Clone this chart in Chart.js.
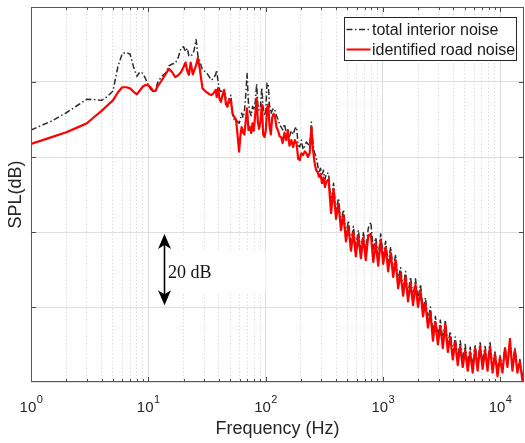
<!DOCTYPE html>
<html><head><meta charset="utf-8">
<script src="https://cdn.jsdelivr.net/npm/chart.js@4/dist/chart.umd.min.js"></script>
<style>html,body{margin:0;padding:0;background:#fff;}canvas{display:block;}</style>
</head><body>
<canvas id="c" width="525" height="443"></canvas>
<script>
// ---- data (frequency in Hz, level in dB, relative scale) ----
const freqLow = [1, 1.5, 2, 2.5, 3, 3.5, 4, 4.5, 5, 5.5, 6, 6.5, 7, 7.5, 8, 8.5, 9, 9.5, 10, 10.5, 11, 11.5, 12, 13, 14, 15, 16, 17, 18, 19, 20, 20.8, 21.5, 22.2, 23, 24, 24.6, 25.6, 26.5, 27.5, 29, 31];
const totalLow = [67.2, 69.6, 71.8, 73.8, 75.4, 75.3, 75.1, 76.2, 77.6, 84.0, 87.6, 87.9, 87.4, 84.0, 81.5, 82.7, 82.3, 80.8, 79.2, 78.0, 77.5, 77.5, 79.8, 81.5, 82.3, 84.3, 84.8, 85.0, 86.5, 89.0, 89.4, 88.1, 89.0, 87.0, 86.8, 87.5, 88.5, 91.3, 87.0, 85.5, 83.2, 82.7];
const roadLow = [63.5, 65.3, 66.6, 67.9, 69.0, 70.8, 72.3, 73.8, 75.1, 77.2, 78.6, 78.6, 78.3, 77.4, 76.7, 77.8, 78.8, 79.2, 79.1, 78.5, 77.6, 77.6, 78.8, 80.4, 82.0, 83.5, 82.6, 81.3, 81.8, 82.6, 84.0, 85.2, 83.0, 81.9, 85.2, 82.0, 83.0, 84.5, 86.4, 83.5, 78.3, 77.4];

const freqMid = [33, 34.5, 36, 37.6, 38.3, 39.4, 40.5, 41.6, 43, 44.4, 46, 47.3, 49, 50.6, 52.5, 54, 56, 57.5, 59.5, 61, 62.5, 64.5, 66, 68, 69.6, 71.5, 73.5, 75.5, 77.5, 79.5, 82, 84, 86, 88, 90.5, 93, 95.5, 98, 100.5, 103, 105.5, 108, 111, 114, 117, 120, 124, 128, 132, 136, 140, 145, 150, 155, 160, 166, 172, 178, 184, 190, 196, 202, 209, 216, 223, 230, 238, 246, 254, 262, 270, 278, 286, 294, 303, 312, 321, 331];
const totalMid = [81.5, 80.5, 81.0, 82.0, 83.2, 80.0, 77.9, 77.5, 77.6, 78.0, 75.5, 73.9, 74.5, 76.5, 71.0, 70.0, 69.8, 69.5, 69.0, 70.0, 71.7, 70.5, 72.0, 77.0, 82.3, 74.4, 72.0, 71.0, 73.5, 72.5, 75.0, 79.5, 74.0, 72.5, 73.5, 78.5, 73.0, 71.0, 72.5, 79.7, 79.5, 74.0, 71.5, 72.5, 73.0, 72.5, 71.0, 70.0, 68.5, 68.0, 67.2, 68.8, 66.5, 66.4, 65.5, 67.0, 66.0, 67.5, 68.0, 63.0, 62.7, 64.5, 62.0, 63.0, 64.0, 63.5, 62.5, 69.3, 63.5, 61.0, 60.0, 58.0, 55.7, 57.0, 55.0, 56.5, 54.0, 55.7];
const roadMid = [76.8, 76.5, 77.0, 77.9, 76.0, 78.4, 75.5, 74.7, 76.5, 77.9, 74.0, 73.4, 75.5, 75.0, 71.5, 70.7, 70.0, 66.5, 61.4, 65.5, 68.0, 66.5, 66.0, 70.0, 73.0, 67.2, 68.0, 66.4, 69.0, 67.0, 72.0, 75.7, 69.5, 67.5, 69.5, 74.0, 66.0, 65.3, 67.0, 73.0, 74.0, 68.5, 66.0, 70.5, 71.5, 71.0, 68.0, 67.0, 65.5, 65.3, 63.7, 66.5, 64.5, 67.2, 63.0, 64.5, 62.7, 64.5, 63.5, 59.5, 59.2, 61.0, 60.5, 61.5, 61.0, 60.0, 61.0, 68.0, 62.0, 58.5, 56.5, 56.0, 54.7, 55.5, 53.0, 54.5, 52.0, 53.5];

const freqHigh = [345, 362, 380, 399, 419, 440, 462, 485, 509, 535, 561, 589, 619, 650, 682, 716, 752, 790, 829, 871, 914, 960, 1008, 1058, 1111, 1167, 1225, 1286, 1351, 1418, 1489, 1564, 1642, 1724, 1810, 1901, 1996, 2096, 2200, 2310, 2426, 2547, 2675, 2808, 2949, 3096, 3251, 3414, 3584, 3763, 3952, 4149, 4357, 4575, 4803, 5043, 5296, 5560, 5838, 6130, 6437, 6759, 7097, 7451, 7824, 8215, 8626, 9057, 9510, 9986, 10485, 11009, 11560, 12138, 12745, 13382, 14051, 14754, 15491, 16000];
const totalHigh = [55.7, 47.0, 53.0, 45.5, 49.0, 42.5, 46.0, 39.5, 43.0, 37.0, 41.5, 36.0, 40.5, 35.0, 40.0, 35.0, 41.0, 42.7, 35.5, 38.5, 33.5, 39.5, 33.5, 37.5, 31.5, 36.0, 30.0, 34.0, 27.0, 30.5, 25.0, 29.5, 23.5, 28.0, 22.5, 27.5, 22.0, 26.0, 19.5, 22.5, 16.5, 20.0, 13.0, 17.5, 12.0, 16.5, 11.0, 16.5, 10.0, 13.5, 7.5, 12.0, 6.0, 11.0, 5.5, 10.0, 4.5, 9.3, 4.0, 10.0, 4.5, 10.5, 5.0, 9.5, 5.0, 10.5, 4.0, 8.0, 3.0, 7.0, 3.5, 9.5, 5.0, 11.0, 4.0, 9.0, 3.5, 6.0, 1.5, 3.0];
const roadHigh = [54.0, 45.0, 51.5, 43.5, 47.5, 40.5, 44.5, 37.5, 41.5, 35.0, 40.0, 33.5, 39.0, 33.0, 38.5, 32.5, 39.0, 39.5, 32.0, 37.0, 31.0, 38.0, 31.5, 36.0, 29.5, 34.5, 28.0, 32.5, 25.0, 29.0, 23.0, 28.0, 21.5, 26.5, 20.5, 26.0, 20.0, 24.5, 17.5, 21.0, 14.5, 18.5, 11.0, 16.0, 10.0, 15.0, 9.0, 15.5, 8.0, 12.0, 6.0, 10.5, 4.5, 9.5, 4.0, 8.5, 3.0, 8.0, 2.5, 9.0, 3.0, 9.5, 3.5, 8.5, 3.0, 9.5, 2.5, 7.5, 1.5, 6.5, 2.5, 9.0, 4.0, 11.5, 3.0, 8.5, 2.5, 5.5, 0.5, 0.5];

const freqHz = freqLow.concat(freqMid, freqHigh);
const totalInteriorNoise = totalLow.concat(totalMid, totalHigh);
const identifiedRoadNoise = roadLow.concat(roadMid, roadHigh);

const seriesLabels = ['total interior noise', 'identified road noise'];
const xTickDecades = [0, 1, 2, 3, 4];
const yGridStepDb = 20;
const arrowFreqHz = 13.7, arrowTopDb = 39.5, arrowBottomDb = 20.5, arrowText = '20 dB';
const xTitle = 'Frequency (Hz)', yTitle = 'SPL(dB)';

// ---- styling ----
const SANS = '"Liberation Sans", Arial, Helvetica, sans-serif';
const SERIF = '"Liberation Serif", "Times New Roman", serif';
const TXT = '#262626';
const BLACK_DASH = [6, 2.5, 1.5, 2.5];
const isDecade = v => Math.abs(Math.log10(v) - Math.round(Math.log10(v))) < 1e-9;

const X_MAX = 16000;
const logTicks = [];
for (let d = 0; d <= 4; d++) for (let m = 1; m <= 9; m++) { const v = m * Math.pow(10, d); if (v <= X_MAX) logTicks.push(v); }

const decor = {
  id: 'decor',
  beforeDatasetsDraw(chart) {
    const {ctx, scales: {x, y}} = chart;
    const ax = Math.round(x.getPixelForValue(arrowFreqHz)) + 0.5;
    const yMid = y.getPixelForValue((arrowTopDb + arrowBottomDb) / 2);
    ctx.save();
    ctx.fillStyle = '#ffffff';
    ctx.fillRect(ax + 2, yMid - 18.5, 99, 41);
    ctx.restore();
  },
  afterDatasetsDraw(chart) {
    const {ctx, chartArea: a, scales: {x, y}} = chart;
    ctx.save();
    const line = (x1, y1, x2, y2) => { ctx.beginPath(); ctx.moveTo(x1, y1); ctx.lineTo(x2, y2); ctx.stroke(); };

    // axes box
    ctx.strokeStyle = '#595959'; ctx.lineWidth = 1; ctx.setLineDash([]);
    ctx.strokeRect(a.left + 0.5, a.top + 0.5, a.right - a.left - 1, a.bottom - a.top - 1);

    // inward tick marks
    ctx.strokeStyle = '#4a4a4a';
    x.ticks.forEach(t => {
      const px = Math.round(x.getPixelForValue(t.value)) + 0.5;
      if (px < a.left + 2 || px > a.right - 2) return;
      const len = isDecade(t.value) ? 5 : 3;
      line(px, a.bottom, px, a.bottom - len);
      line(px, a.top, px, a.top + len);
    });
    y.ticks.forEach(t => {
      if (t.value <= 0 || t.value >= 100) return;
      const py = Math.round(y.getPixelForValue(t.value)) + 0.5;
      line(a.left, py, a.left + 5, py);
      line(a.right, py, a.right - 5, py);
    });

    // x tick labels 10^n
    ctx.fillStyle = TXT; ctx.textAlign = 'left'; ctx.textBaseline = 'alphabetic';
    xTickDecades.forEach(d => {
      const px = x.getPixelForValue(Math.pow(10, d));
      ctx.font = '15px ' + SANS; const wb = ctx.measureText('10').width;
      ctx.font = '11px ' + SANS; const we = ctx.measureText(String(d)).width;
      const x0 = px - (wb + we) / 2;
      ctx.font = '15px ' + SANS; ctx.fillText('10', x0, a.bottom + 29.5);
      ctx.font = '11px ' + SANS; ctx.fillText(String(d), x0 + wb + 0.5, a.bottom + 20.5);
    });

    // axis titles
    ctx.font = '18px ' + SANS; ctx.textAlign = 'center';
    ctx.fillText(xTitle, (a.left + a.right) / 2, a.bottom + 51.5);
    ctx.save();
    ctx.translate(21, (a.top + a.bottom) / 2);
    ctx.rotate(-Math.PI / 2);
    ctx.fillText(yTitle, 0, 0);
    ctx.restore();

    // legend
    const lx = a.right - 179.5, ly = a.top + 10.5, lw = 172, lh = 43;
    ctx.fillStyle = '#ffffff'; ctx.fillRect(lx, ly, lw, lh);
    ctx.strokeStyle = '#262626'; ctx.lineWidth = 1; ctx.strokeRect(lx, ly, lw, lh);
    ctx.lineWidth = 1.5; ctx.strokeStyle = '#2b2b2b'; ctx.setLineDash(BLACK_DASH);
    line(lx + 2, ly + 12, lx + 26, ly + 12);
    ctx.setLineDash([]); ctx.strokeStyle = '#ff0000'; ctx.lineWidth = 2;
    line(lx + 2, ly + 32, lx + 26, ly + 32);
    ctx.fillStyle = '#1a1a1a'; ctx.font = '16px ' + SANS; ctx.textAlign = 'left';
    ctx.fillText(seriesLabels[0], lx + 27.5, ly + 17.2);
    ctx.fillText(seriesLabels[1], lx + 27.5, ly + 37.2);

    // 20 dB double arrow annotation
    const ax = Math.round(x.getPixelForValue(arrowFreqHz)) + 0.5;
    const yT = y.getPixelForValue(arrowTopDb), yB = y.getPixelForValue(arrowBottomDb);
    ctx.strokeStyle = '#000'; ctx.fillStyle = '#000'; ctx.lineWidth = 1.6;
    line(ax, yT + 8, ax, yB - 8);
    ctx.beginPath();
    ctx.moveTo(ax, yT); ctx.lineTo(ax - 6.5, yT + 15); ctx.lineTo(ax, yT + 11); ctx.lineTo(ax + 6.5, yT + 15); ctx.closePath(); ctx.fill();
    ctx.beginPath();
    ctx.moveTo(ax, yB); ctx.lineTo(ax - 6.5, yB - 15); ctx.lineTo(ax, yB - 11); ctx.lineTo(ax + 6.5, yB - 15); ctx.closePath(); ctx.fill();
    ctx.font = '18px ' + SERIF; ctx.fillStyle = '#111';
    ctx.fillText(arrowText, ax + 3.5, y.getPixelForValue((arrowTopDb + arrowBottomDb) / 2) + 8);
    ctx.restore();
  }
};

const toXY = vals => freqHz.map((f, i) => ({x: f, y: vals[i]}));

new Chart(document.getElementById('c'), {
  type: 'line',
  data: {
    datasets: [
      {label: seriesLabels[1], data: toXY(identifiedRoadNoise), borderColor: '#ff0000', borderWidth: 2.2,
       borderJoinStyle: 'round', pointRadius: 0, tension: 0, fill: false},
      {label: seriesLabels[0], data: toXY(totalInteriorNoise), borderColor: '#2b2b2b', borderWidth: 1.5,
       borderDash: BLACK_DASH, borderJoinStyle: 'round', pointRadius: 0, tension: 0, fill: false}
    ]
  },
  options: {
    responsive: false, animation: false, devicePixelRatio: 1,
    layout: {padding: {left: 31, right: 1, top: 7, bottom: 61}},
    plugins: {legend: {display: false}, tooltip: {enabled: false}},
    scales: {
      x: {
        type: 'logarithmic', min: 1, max: X_MAX,
        afterBuildTicks: s => { s.ticks = logTicks.map(v => ({value: v})); },
        afterFit: s => { s.height = 0; },
        ticks: {display: false},
        grid: {drawTicks: false, lineWidth: 1,
               color: c => (c.tick && !isDecade(c.tick.value)) ? '#dcdcdc' : '#dcdcdc'},
        border: {display: false, dash: c => (c.tick && !isDecade(c.tick.value)) ? [1.5, 2] : []}
      },
      y: {
        type: 'linear', min: 0, max: 100,
        afterFit: s => { s.width = 0; },
        ticks: {display: false, stepSize: yGridStepDb},
        grid: {drawTicks: false, lineWidth: 1, color: '#dedede'},
        border: {display: false}
      }
    }
  },
  plugins: [decor]
});
</script>
</body></html>
